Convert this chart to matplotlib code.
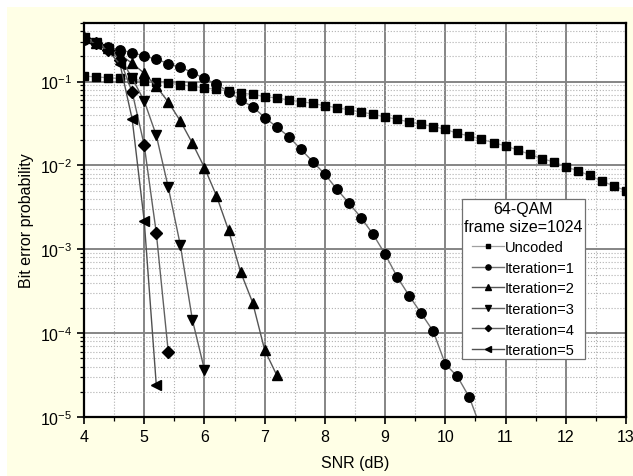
import matplotlib
matplotlib.use("Agg")
import matplotlib.pyplot as plt
from matplotlib.ticker import LogLocator, MultipleLocator, NullFormatter
from matplotlib.patches import Rectangle

# === Data (SNR in dB, BER) ===
snr_uncoded = [4.0, 4.2, 4.4, 4.6, 4.8, 5.0, 5.2, 5.4, 5.6, 5.8,
               6.0, 6.2, 6.4, 6.6, 6.8, 7.0, 7.2, 7.4, 7.6, 7.8,
               8.0, 8.2, 8.4, 8.6, 8.8, 9.0, 9.2, 9.4, 9.6, 9.8,
               10.0, 10.2, 10.4, 10.6, 10.8, 11.0, 11.2, 11.4, 11.6, 11.8,
               12.0, 12.2, 12.4, 12.6, 12.8, 13.0]
ber_uncoded = [0.116, 0.114, 0.111, 0.109, 0.106, 0.103, 0.099, 0.096, 0.092, 0.088,
               0.084, 0.081, 0.077, 0.0726, 0.0706, 0.0662, 0.0638, 0.0604, 0.0578, 0.0551,
               0.0513, 0.049, 0.0459, 0.0434, 0.0408, 0.0379, 0.0355, 0.033, 0.031, 0.0291,
               0.027, 0.0242, 0.0225, 0.0205, 0.0187, 0.0171, 0.0153, 0.0136, 0.0121, 0.011,
               0.0097, 0.0086, 0.0076, 0.0065, 0.0057, 0.005]

snr_it1 = [4.0, 4.2, 4.4, 4.6, 4.8, 5.0, 5.2, 5.4, 5.6, 5.8,
           6.0, 6.2, 6.4, 6.6, 6.8, 7.0, 7.2, 7.4, 7.6, 7.8,
           8.0, 8.2, 8.4, 8.6, 8.8, 9.0, 9.2, 9.4, 9.6, 9.8,
           10.0, 10.2, 10.4, 10.6]
ber_it1 = [0.31, 0.29, 0.26, 0.238, 0.222, 0.202, 0.185, 0.164, 0.149, 0.128,
           0.109, 0.093, 0.076, 0.060, 0.0503, 0.0373, 0.0288, 0.0221, 0.0156, 0.0111,
           0.00785, 0.0052, 0.00355, 0.00239, 0.00151, 8.75e-4, 4.69e-4, 2.79e-4, 1.72e-4, 1.05e-4,
           4.27e-5, 3.05e-5, 1.71e-5, 7.0e-6]

snr_it2 = [4.0, 4.2, 4.4, 4.6, 4.8, 5.0, 5.2, 5.4, 5.6, 5.8, 6.0, 6.2, 6.4, 6.6, 6.8, 7.0, 7.2]
ber_it2 = [0.33, 0.29, 0.25, 0.21, 0.165, 0.126, 0.088, 0.057, 0.0339, 0.0184,
           0.00944, 0.00434, 0.00169, 5.38e-4, 2.32e-4, 6.3e-5, 3.16e-5]

snr_it3 = [4.0, 4.2, 4.4, 4.6, 4.8, 5.0, 5.2, 5.4, 5.6, 5.8, 6.0]
ber_it3 = [0.33, 0.29, 0.245, 0.195, 0.11, 0.0587, 0.0229, 0.00546, 0.00112, 1.44e-4, 3.66e-5]

snr_it4 = [4.0, 4.2, 4.4, 4.6, 4.8, 5.0, 5.2, 5.4]
ber_it4 = [0.33, 0.285, 0.24, 0.18, 0.075, 0.0174, 0.00158, 5.9e-5]

snr_it5 = [4.0, 4.2, 4.4, 4.6, 4.8, 5.0, 5.2]
ber_it5 = [0.33, 0.28, 0.235, 0.16, 0.0356, 0.00218, 2.42e-5]

plt.rcParams["font.family"] = ["Liberation Sans", "DejaVu Sans"]
plt.rcParams["mathtext.fontset"] = "custom"
plt.rcParams["mathtext.rm"] = "Liberation Sans"

fig = plt.figure(figsize=(6.33, 4.77), dpi=100)
fig.patch.set_facecolor("white")
# pale yellow backdrop, leaving a thin white strip top and left
fig.add_artist(Rectangle((7 / 633, 0), 1, 1 - 8 / 477, transform=fig.transFigure,
                         facecolor="#ffffe6", edgecolor="none", zorder=-10))

ax = fig.add_axes([84 / 633, 1 - 418 / 477, 542 / 633, 394 / 477])
ax.set_facecolor("white")

ax.plot(snr_uncoded, ber_uncoded, color="#a0a0a0", lw=0.9,
        marker="s", ms=5.8, mfc="black", mec="black", label="Uncoded")
ax.plot(snr_it1, ber_it1, color="#707070", lw=1.0,
        marker="o", ms=6.8, mfc="black", mec="black", label="Iteration=1")
ax.plot(snr_it2, ber_it2, color="#555555", lw=1.0,
        marker="^", ms=7.5, mfc="black", mec="black", label="Iteration=2")
ax.plot(snr_it3, ber_it3, color="#606060", lw=1.0,
        marker="v", ms=7.5, mfc="black", mec="black", label="Iteration=3")
ax.plot(snr_it4, ber_it4, color="#606060", lw=1.0,
        marker="D", ms=5.8, mfc="black", mec="black", label="Iteration=4")
ax.plot(snr_it5, ber_it5, color="#505050", lw=1.0,
        marker="<", ms=7.0, mfc="black", mec="black", label="Iteration=5")

ax.set_yscale("log")
ax.set_xlim(4, 13)
ax.set_ylim(1e-5, 0.5)

ax.xaxis.set_major_locator(MultipleLocator(1))
ax.xaxis.set_minor_locator(MultipleLocator(0.5))
ax.yaxis.set_major_locator(LogLocator(base=10, numticks=10))
ax.yaxis.set_minor_locator(LogLocator(base=10, subs=range(2, 10), numticks=20))
ax.yaxis.set_minor_formatter(NullFormatter())

ax.grid(True, which="major", color="#858585", lw=1.4, ls="-")
ax.grid(True, which="minor", color="#b0b0b0", lw=0.8, ls=":")
ax.set_axisbelow(True)

ax.tick_params(which="major", direction="out", length=5, width=1.2, labelsize=11.5,
               top=False, right=False)
ax.tick_params(which="minor", direction="out", length=3, width=0.9, top=False, right=False)
for sp in ax.spines.values():
    sp.set_linewidth(1.6)

ax.set_xlabel("SNR (dB)", fontsize=11.5, labelpad=8)
ax.set_ylabel("Bit error probability", fontsize=11.5, labelpad=4)

leg = ax.legend(title="64-QAM\nframe size=1024", loc="upper left",
                bbox_to_anchor=(0.697, 0.553), fontsize=10.5, title_fontsize=11.5,
                markerscale=0.55, handlelength=2.2, handletextpad=0.1,
                labelspacing=0.45, borderpad=0.15, borderaxespad=0,
                fancybox=False, framealpha=1, edgecolor="#707070")
leg.get_frame().set_linewidth(0.9)
leg.get_title().set_multialignment("center")

fig.savefig("out.png", dpi=100, facecolor=fig.get_facecolor())
